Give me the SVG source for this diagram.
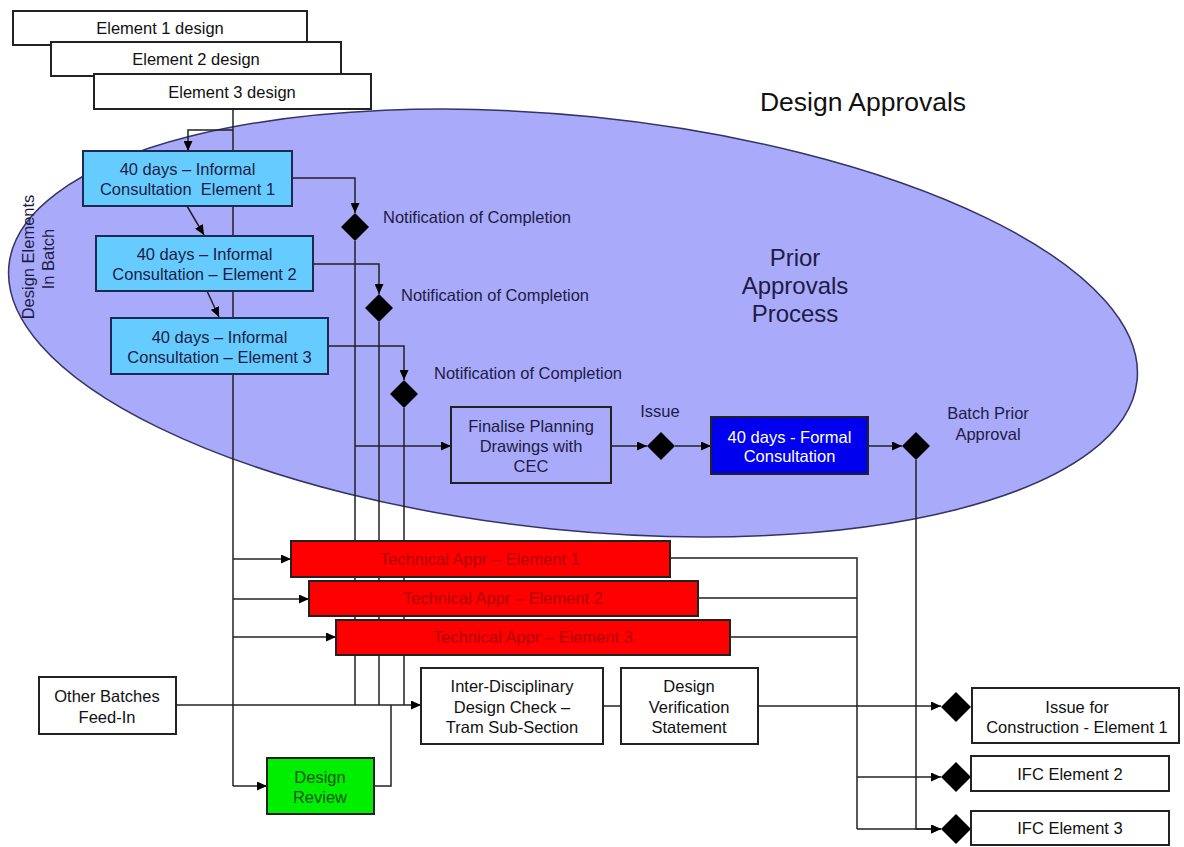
<svg xmlns="http://www.w3.org/2000/svg" width="1184" height="847" viewBox="0 0 1184 847">
<style>
.t{font-family:"Liberation Sans",Arial,Helvetica,sans-serif;font-size:16.5px;text-anchor:middle;fill:#111}
.n{fill:#1c1c44}
.s{text-anchor:start}
.box{fill:#fff;stroke:#222;stroke-width:2}
.ic{fill:#66ccff;stroke:#1a2a50;stroke-width:2}
.ta{fill:#ff0000;stroke:#222;stroke-width:2}
.ln{fill:none;stroke:#222;stroke-width:1.5}
.ar{marker-end:url(#ah)}
.dm{fill:#000}
</style>
<defs>
<marker id="ah" markerUnits="userSpaceOnUse" markerWidth="11" markerHeight="9" refX="10" refY="4.5" orient="auto">
<path d="M0,0 L10,4.5 L0,9 z" fill="#000"/>
</marker>
</defs>
<rect width="1184" height="847" fill="#fff"/>
<g id="ellipse">
<ellipse cx="573" cy="323" rx="567" ry="207" transform="rotate(5.84 573 323)" fill="#aaaafa" stroke="#333366" stroke-width="1.5"/>
</g>
<g id="connectors">
<path class="ln" d="M233,109 V786"/>
<path class="ln ar" d="M233,786 H267"/>
<path class="ln ar" d="M233,130 H188 V151"/>
<path class="ln ar" d="M233,559 H291"/>
<path class="ln ar" d="M233,599 H309"/>
<path class="ln ar" d="M233,637 H336"/>
<path class="ln ar" d="M187,206 L204,235"/>
<path class="ln ar" d="M207,291 L219,317"/>
<path class="ln ar" d="M292,178 H355 V213"/>
<path class="ln ar" d="M313,264 H379 V294"/>
<path class="ln ar" d="M328,346 H404 V380"/>
<path class="ln" d="M355,241 V705 M379,322 V705 M404,408 V705"/>
<path class="ln ar" d="M355,446 H451"/>
<path class="ln ar" d="M611,446 H647"/>
<path class="ln ar" d="M675,446 H711"/>
<path class="ln ar" d="M868,446 H902"/>
<path class="ln ar" d="M916,460 V829 H941"/>
<path class="ln ar" d="M176,705 H421"/>
<path class="ln" d="M374,786 H391 V705"/>
<path class="ln" d="M603,706 H621"/>
<path class="ln ar" d="M758,706 H941"/>
<path class="ln" d="M670,558 H857 V829 M698,598 H857 M730,637 H857"/>
<path class="ln ar" d="M857,777 H941"/>
<path class="ln ar" d="M857,829 H941"/>
</g>
<g id="title">
<text class="t" x="863" y="111" style="font-size:26.5px">Design Approvals</text>
</g>
<g id="prior-approvals-label">
<text class="t n" x="795" y="266" style="font-size:24px">Prior</text>
<text class="t n" x="795" y="294" style="font-size:24px">Approvals</text>
<text class="t n" x="795" y="322" style="font-size:24px">Process</text>
</g>
<g id="batch-label">
<text class="t n" x="28" y="263" transform="rotate(-90 28 257)">Design Elements</text>
<text class="t n" x="48" y="265" transform="rotate(-90 48 259)">In Batch</text>
</g>
<g id="element1-design">
<rect class="box" x="13" y="11" width="294" height="34"/>
<text class="t" x="160" y="34">Element 1 design</text>
</g>
<g id="element2-design">
<rect class="box" x="51" y="42" width="290" height="34"/>
<text class="t" x="196" y="65">Element 2 design</text>
</g>
<g id="element3-design">
<rect class="box" x="94" y="74" width="277" height="35"/>
<text class="t" x="232" y="98">Element 3 design</text>
</g>
<g id="ic1">
<rect class="ic" x="83" y="151" width="209" height="55"/>
<text class="t n" x="187.5" y="175">40 days – Informal</text>
<text class="t n" x="187.5" y="195" xml:space="preserve">Consultation  Element 1</text>
</g>
<g id="ic2">
<rect class="ic" x="96" y="236" width="217" height="55"/>
<text class="t n" x="204.5" y="260">40 days – Informal</text>
<text class="t n" x="204.5" y="280">Consultation – Element 2</text>
</g>
<g id="ic3">
<rect class="ic" x="111" y="318" width="217" height="56"/>
<text class="t n" x="219.5" y="343">40 days – Informal</text>
<text class="t n" x="219.5" y="363">Consultation – Element 3</text>
</g>
<g id="notif1">
<path class="dm" d="M355,213 L369,227 L355,241 L341,227 z"/>
<text class="t n s" x="383" y="223">Notification of Completion</text>
</g>
<g id="notif2">
<path class="dm" d="M379,294 L393,308 L379,322 L365,308 z"/>
<text class="t n s" x="401" y="301">Notification of Completion</text>
</g>
<g id="notif3">
<path class="dm" d="M404,380 L418,394 L404,408 L390,394 z"/>
<text class="t n s" x="434" y="379">Notification of Completion</text>
</g>
<g id="finalise">
<rect x="451" y="407" width="160" height="76" fill="#aaaafa" stroke="#222" stroke-width="2"/>
<text class="t n" x="531" y="432">Finalise Planning</text>
<text class="t n" x="531" y="452">Drawings with</text>
<text class="t n" x="531" y="472">CEC</text>
</g>
<g id="issue">
<path class="dm" d="M661,432 L675,446 L661,460 L647,446 z"/>
<text class="t n" x="660" y="417">Issue</text>
</g>
<g id="formal">
<rect x="711" y="417" width="157" height="57" fill="#0000ee" stroke="#222" stroke-width="2"/>
<text class="t" x="789.5" y="443" style="fill:#fff">40 days - Formal</text>
<text class="t" x="789.5" y="462" style="fill:#fff">Consultation</text>
</g>
<g id="batch-prior">
<path class="dm" d="M916,432 L930,446 L916,460 L902,446 z"/>
<text class="t n" x="988" y="419">Batch Prior</text>
<text class="t n" x="988" y="440">Approval</text>
</g>
<g id="ta1">
<rect class="ta" x="291" y="541" width="379" height="36"/>
<text class="t" x="480" y="565" style="fill:#b00000">Technical Appr – Element 1</text>
</g>
<g id="ta2">
<rect class="ta" x="309" y="581" width="389" height="35"/>
<text class="t" x="503" y="604" style="fill:#b00000">Technical Appr – Element 2</text>
</g>
<g id="ta3">
<rect class="ta" x="336" y="620" width="394" height="35"/>
<text class="t" x="533" y="643" style="fill:#b00000">Technical Appr – Element 3</text>
</g>
<g id="other-batches">
<rect class="box" x="39" y="677" width="137" height="57"/>
<text class="t" x="107" y="702">Other Batches</text>
<text class="t" x="107" y="723">Feed-In</text>
</g>
<g id="design-review">
<rect x="267" y="758" width="107" height="56" fill="#00ee00" stroke="#222" stroke-width="2"/>
<text class="t" x="320" y="783" style="fill:#115511">Design</text>
<text class="t" x="320" y="803" style="fill:#115511">Review</text>
</g>
<g id="idc">
<rect class="box" x="421" y="668" width="182" height="76"/>
<text class="t" x="512" y="692">Inter-Disciplinary</text>
<text class="t" x="512" y="713">Design Check –</text>
<text class="t" x="512" y="733">Tram Sub-Section</text>
</g>
<g id="dvs">
<rect class="box" x="621" y="668" width="137" height="76"/>
<text class="t" x="689" y="692">Design</text>
<text class="t" x="689" y="713">Verification</text>
<text class="t" x="689" y="733">Statement</text>
</g>
<g id="ifc1">
<path class="dm" d="M956,692 L971,707 L956,722 L941,707 z"/>
<rect class="box" x="972" y="688" width="207" height="55"/>
<text class="t" x="1077" y="713">Issue for</text>
<text class="t" x="1077" y="733">Construction - Element 1</text>
</g>
<g id="ifc2">
<path class="dm" d="M956,762 L971,777 L956,792 L941,777 z"/>
<rect class="box" x="971" y="756" width="198" height="35"/>
<text class="t" x="1070" y="780">IFC Element 2</text>
</g>
<g id="ifc3">
<path class="dm" d="M956,814 L971,829 L956,844 L941,829 z"/>
<rect class="box" x="971" y="811" width="198" height="34"/>
<text class="t" x="1070" y="834">IFC Element 3</text>
</g>
</svg>
